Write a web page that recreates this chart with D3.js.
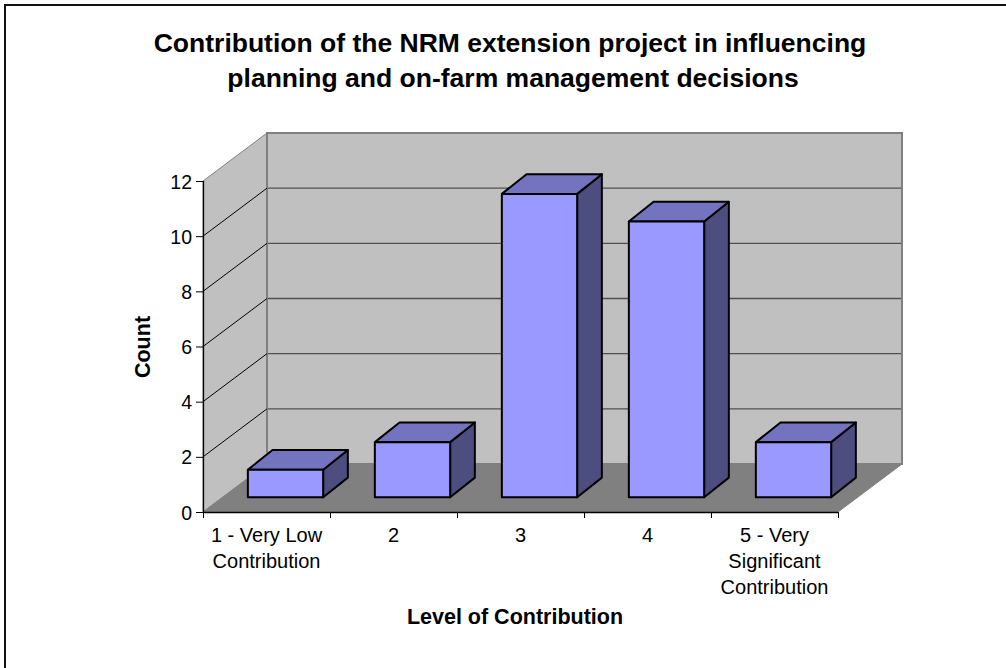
<!DOCTYPE html>
<html><head><meta charset="utf-8">
<script src="https://cdn.jsdelivr.net/npm/d3@7"></script>
<style>html,body{margin:0;background:#fff;overflow:hidden}svg{display:block}text{font-family:"Liberation Sans",Arial,sans-serif;fill:#000}</style>
</head><body><div id="c"></div>
<script>
const categories=[["1 - Very Low","Contribution"],["2"],["3"],["4"],["5 - Very","Significant","Contribution"]];
const counts=[1,2,11,10,2];
const yTicks=[0,2,4,6,8,10,12];
const titleLines=["Contribution of the NRM extension project in influencing","planning and on-farm management decisions"];
const xLabel="Level of Contribution", yLabel="Count";

const W=1006,H=668;
const svg=d3.select("#c").append("svg").attr("width",W).attr("height",H);
svg.append("path").attr("d",`M5,${H}V5H${W}`).attr("fill","none").attr("stroke","#111").attr("stroke-width",2);

const x=d3.scaleBand().domain(d3.range(5)).range([203,838]);
const y=d3.scaleLinear().domain([0,12]).range([512,181]);
const DX=64,DY=-48,bdx=24.7,bdy=-19.7,off=19,offY=-14.7;
const pts=a=>a.map(p=>p.join(",")).join(" ");
const x0=203,x1=838;

// walls and floor
svg.append("polygon").attr("points",pts([[x0,y(0)],[x0,y(12)],[x0+DX,y(12)+DY],[x0+DX,y(0)+DY]])).attr("fill","#c0c0c0").attr("stroke","#808080").attr("stroke-width",1);
svg.append("polygon").attr("points",pts([[x0,y(0)],[x0+DX,y(0)+DY],[x1+DX,y(0)+DY],[x1,y(0)]])).attr("fill","#808080").attr("stroke","#808080");
svg.append("polygon").attr("points",pts([[x0+DX,y(0)+DY],[x0+DX,y(12)+DY],[x1+DX,y(12)+DY],[x1+DX,y(0)+DY]])).attr("fill","#c0c0c0").attr("stroke","#808080").attr("stroke-width",2);

// gridlines
yTicks.filter(t=>t>0&&t<12).forEach(t=>{
  const gx0=x0+DX+1, yb=y(t)+DY;
  svg.append("line").attr("x1",x0).attr("y1",y(t)).attr("x2",gx0-1).attr("y2",yb).attr("stroke","#000").attr("stroke-width",1);
  svg.append("line").attr("x1",gx0).attr("y1",yb).attr("x2",x1+DX-1).attr("y2",yb).attr("stroke","#505050").attr("stroke-width",1.4);
});

// bars
const bw=75.3;
const fx=i=>x(i)+x.bandwidth()/2-bw/2+off;
const by0=y(0)+offY;
const h=v=>y(0)-y(v);
const g=svg.selectAll("g.bar").data(counts).join("g").attr("class","bar");
g.append("polygon").attr("fill","#4d4d80").attr("points",(d,i)=>pts([[fx(i)+bw,by0],[fx(i)+bw,by0-h(d)],[fx(i)+bw+bdx,by0-h(d)+bdy],[fx(i)+bw+bdx,by0+bdy]]));
g.append("polygon").attr("fill","#7373bf").attr("points",(d,i)=>pts([[fx(i),by0-h(d)],[fx(i)+bdx,by0-h(d)+bdy],[fx(i)+bw+bdx,by0-h(d)+bdy],[fx(i)+bw,by0-h(d)]]));
g.append("rect").attr("fill","#9999ff").attr("x",(d,i)=>fx(i)).attr("y",d=>by0-h(d)).attr("width",bw).attr("height",d=>h(d));
g.selectAll("polygon,rect").attr("stroke","#000").attr("stroke-width",2).attr("stroke-linejoin","round");

// axes
const ay=d3.axisLeft(y).tickValues(yTicks).tickSize(7).tickPadding(4);
const gy=svg.append("g").attr("transform",`translate(${x0},0)`).call(ay);
gy.selectAll("text").style("font-size","19.5px").attr("dy","0.36em");
gy.select(".domain").attr("d",`M0.5,${y(12)}V${y(0)}`).attr("stroke","#000").attr("stroke-width",1.3);

const ax=d3.axisBottom(d3.scaleLinear().domain([0,5]).range([x0,x1])).tickValues(d3.range(6)).tickSize(6).tickFormat("");
const gx=svg.append("g").attr("transform",`translate(0,${y(0)})`).call(ax);
gx.select(".domain").attr("d",`M${x0},0.5H${x1}`).attr("stroke","#000").attr("stroke-width",1.4);

// category labels
categories.forEach((lines,i)=>{
  const t=svg.append("text").attr("text-anchor","middle").style("font-size","20px");
  lines.forEach((s,j)=>t.append("tspan").attr("x",x(i)+x.bandwidth()/2).attr("y",541.7+j*26.2).text(s));
});

// titles
const tt=svg.append("text").attr("text-anchor","middle").style("font-size","26.5px").style("font-weight","bold");
titleLines.forEach((s,j)=>tt.append("tspan").attr("x",[510,513][j]).attr("y",52+j*35).text(s));
svg.append("text").attr("x",515).attr("y",624).attr("text-anchor","middle").style("font-size","21.5px").style("font-weight","bold").text(xLabel);
svg.append("text").attr("transform","translate(150,347) rotate(-90)").attr("text-anchor","middle").style("font-size","21.5px").style("font-weight","bold").text(yLabel);
</script></body></html>
